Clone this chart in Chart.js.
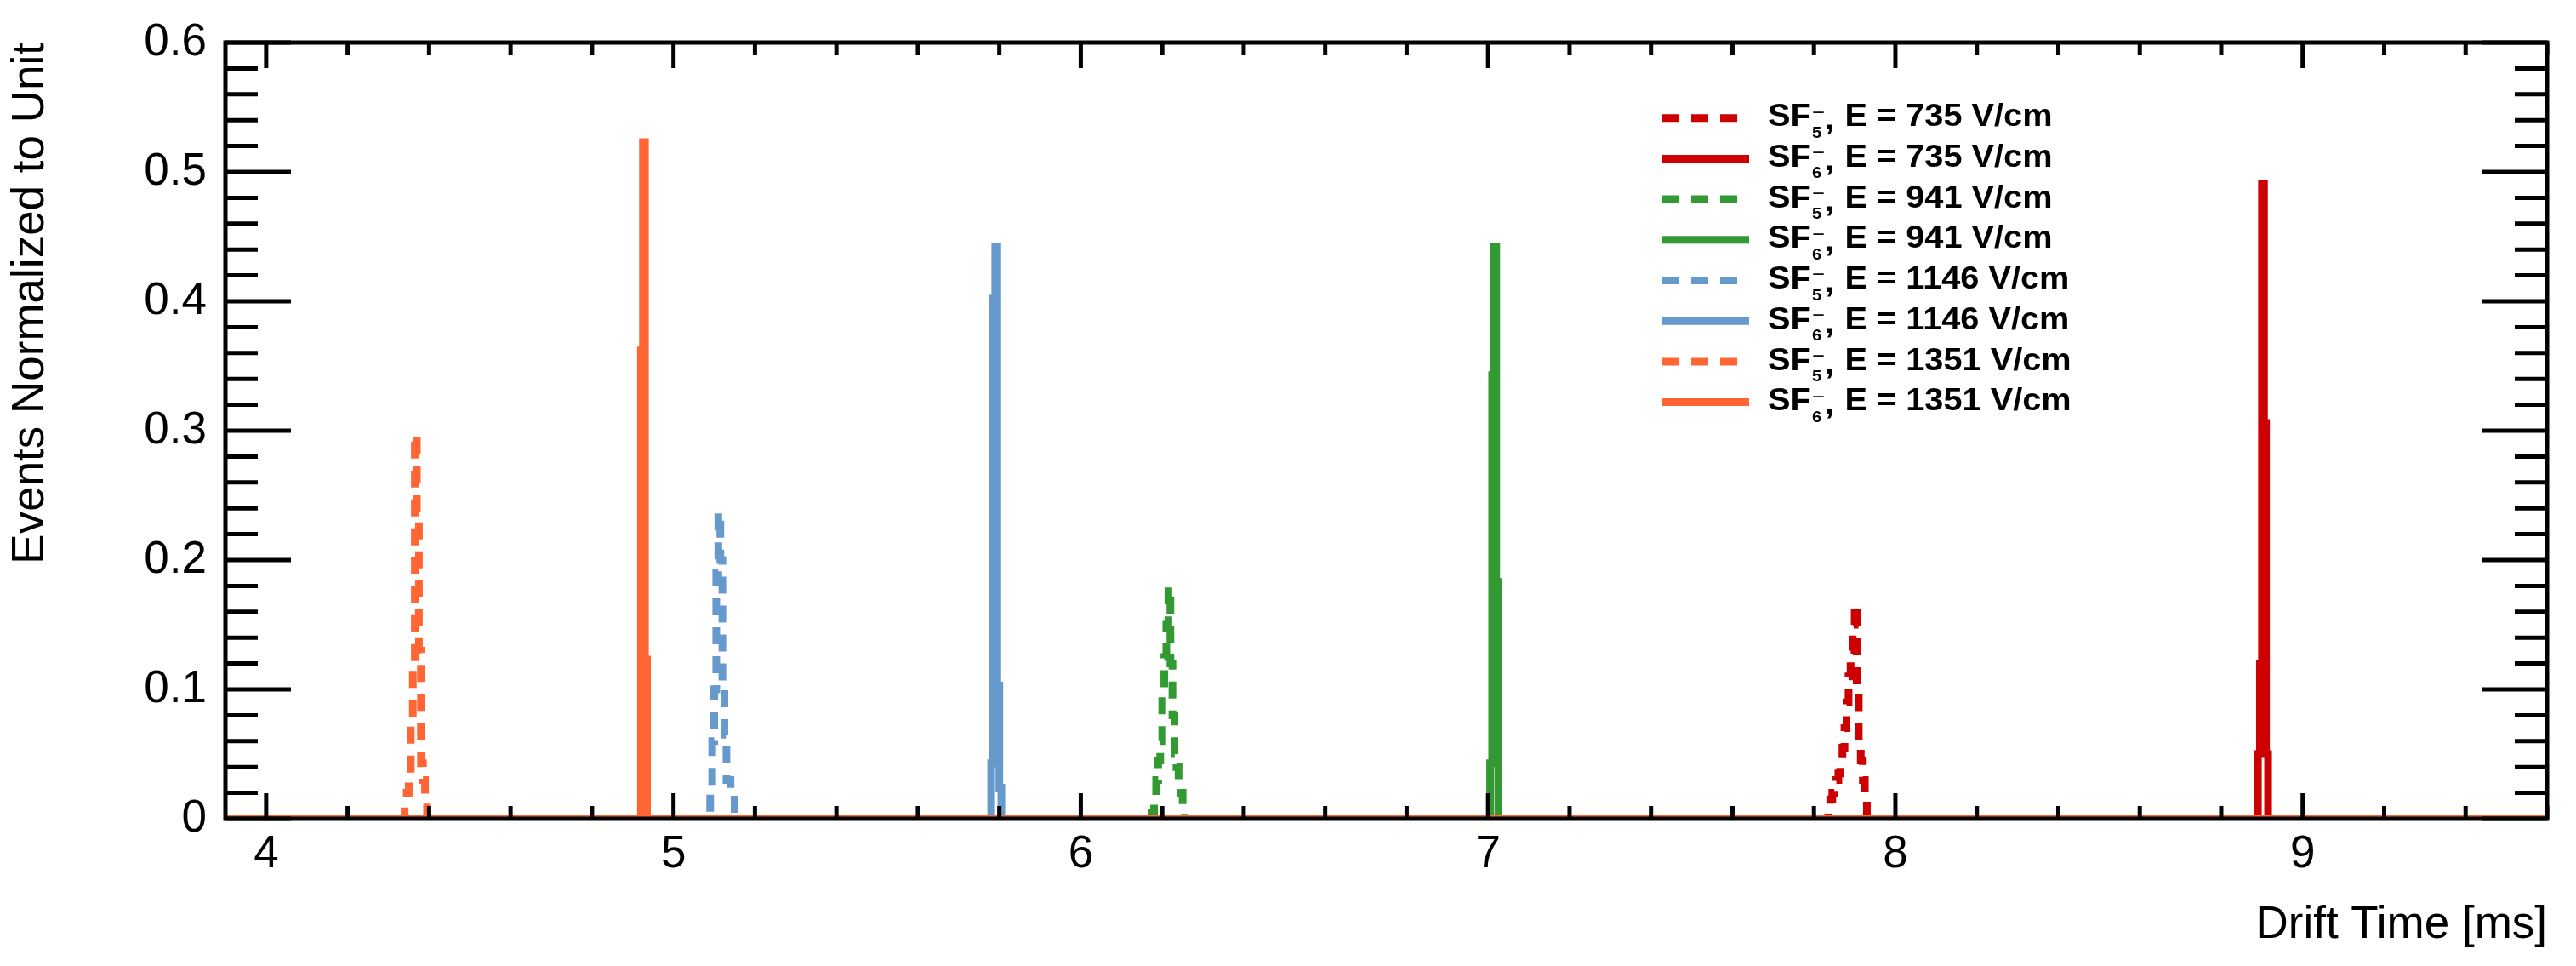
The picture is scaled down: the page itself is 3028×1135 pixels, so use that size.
<!DOCTYPE html>
<html>
<head>
<meta charset="utf-8">
<script src="https://cdn.jsdelivr.net/npm/chart.js@4.4.1/dist/chart.umd.min.js"></script>
<style>
  html, body { margin: 0; padding: 0; background: #ffffff; }
  canvas { display: block; }
</style>
</head>
<body>
<canvas id="chart" width="3028" height="1135"></canvas>
<script>
// ---------------- DATA ----------------
const BIN_WIDTH = 0.005;            // ms per histogram bin
const X_MIN = 3.9, X_MAX = 9.6;     // drift-time axis range [ms]
const Y_MIN = 0, Y_MAX = 0.6;

const seriesLabels = [
  'SF₅⁻, E = 735 V/cm',  'SF₆⁻, E = 735 V/cm',
  'SF₅⁻, E = 941 V/cm',  'SF₆⁻, E = 941 V/cm',
  'SF₅⁻, E = 1146 V/cm', 'SF₆⁻, E = 1146 V/cm',
  'SF₅⁻, E = 1351 V/cm', 'SF₆⁻, E = 1351 V/cm'
];
const ionSubscripts = ['5', '6', '5', '6', '5', '6', '5', '6'];
const fieldValues   = ['735', '735', '941', '941', '1146', '1146', '1351', '1351'];

// first bin low edge [ms] and normalized bin contents of every histogram
const sf5_735_start = 7.835;
const sf5_735 = [0.010, 0.015, 0.020, 0.025, 0.030, 0.035, 0.045, 0.055, 0.070, 0.090,
                 0.110, 0.130, 0.150, 0.166, 0.100, 0.055, 0.045, 0.030, 0.015];
const sf6_735_start = 8.890;
const sf6_735 = [0.050, 0.120, 0.491, 0.306, 0.050];

const sf5_941_start = 6.175;
const sf5_941 = [0.005, 0.015, 0.030, 0.045, 0.060, 0.100, 0.125, 0.150, 0.179, 0.120,
                 0.080, 0.050, 0.040, 0.030, 0.020, 0.005];
const sf6_941_start = 7.005;
const sf6_941 = [0.043, 0.343, 0.442, 0.183];

const sf5_1146_start = 5.090;
const sf5_1146 = [0.025, 0.060, 0.100, 0.190, 0.237, 0.200, 0.105, 0.065, 0.030, 0.030,
                  0.020, 0.020];
const sf6_1146_start = 5.780;
const sf6_1146 = [0.043, 0.402, 0.442, 0.103, 0.024];

const sf5_1351_start = 4.340;
const sf5_1351 = [0.010, 0.020, 0.030, 0.074, 0.117, 0.297, 0.231, 0.130, 0.043, 0.030, 0.015];
const sf6_1351_start = 4.920;
const sf6_1351 = [0.362, 0.523, 0.123];

const xTickValues = [4, 5, 6, 7, 8, 9];
const xTickLabels = ['4', '5', '6', '7', '8', '9'];
const yTickValues = [0, 0.1, 0.2, 0.3, 0.4, 0.5, 0.6];
const yTickLabels = ['0', '0.1', '0.2', '0.3', '0.4', '0.5', '0.6'];

// ---------------- STYLE ----------------
const FAMILY = "'Liberation Sans', Arial, Helvetica, sans-serif";
const seriesColors = ['#cc0000', '#cc0000', '#339933', '#339933',
                      '#6699cc', '#6699cc', '#ff6633', '#ff6633'];
const seriesDashed = [true, false, true, false, true, false, true, false];
const LINE_WIDTH = 9;
const DASH = [20, 14];

const X_MINOR_STEP = 0.2, Y_MINOR_STEP = 0.02;
const FRAME_WIDTH = 5;
const X_TICK_MAJOR = 30, X_TICK_MINOR = 15;
const Y_TICK_MAJOR = 77, Y_TICK_MINOR = 38;

// legend layout (canvas px) and the reference width of "E = 735 V/cm"
const LEG = { x1: 1954, x2: 2056, top: 138.7, step: 47.7, base: 9.6,
              textX: 2078, subX: 2130, commaX: 2145, restX: 2168.5,
              size: 37.5, subSize: 19, refText: 'E = 735 V/cm', refWidth: 244 };

// ---------------- BUILD ----------------
const starts = [sf5_735_start, sf6_735_start, sf5_941_start, sf6_941_start,
                sf5_1146_start, sf6_1146_start, sf5_1351_start, sf6_1351_start];
const contents = [sf5_735, sf6_735, sf5_941, sf6_941, sf5_1146, sf6_1146, sf5_1351, sf6_1351];

function histPoints(start, values) {
  const pts = [{ x: X_MIN, y: 0 }];
  values.forEach((v, i) => pts.push({ x: +(start + i * BIN_WIDTH).toFixed(4), y: v }));
  pts.push({ x: +(start + values.length * BIN_WIDTH).toFixed(4), y: 0 });
  pts.push({ x: X_MAX, y: 0 });
  return pts;
}

const datasets = seriesLabels.map((label, i) => ({
  label,
  data: histPoints(starts[i], contents[i]),
  borderColor: seriesColors[i],
  backgroundColor: seriesColors[i],
  borderWidth: LINE_WIDTH,
  borderDash: seriesDashed[i] ? DASH : [],
  borderCapStyle: 'butt',
  borderJoinStyle: 'miter',
  stepped: true,
  pointRadius: 0,
  fill: false,
  order: seriesLabels.length - i
}));

// ROOT-style frame with inward ticks on all four sides
const framePlugin = {
  id: 'rootFrame',
  afterDatasetsDraw(chart) {
    const { ctx, chartArea: a, scales } = chart;
    const xs = scales.x, ys = scales.y;
    ctx.save();
    ctx.strokeStyle = '#000';
    ctx.lineWidth = FRAME_WIDTH;
    ctx.lineCap = 'butt';
    ctx.setLineDash([]);
    ctx.beginPath();
    const kx0 = Math.ceil(X_MIN / X_MINOR_STEP - 1e-9), kx1 = Math.floor(X_MAX / X_MINOR_STEP + 1e-9);
    for (let k = kx0; k <= kx1; k++) {
      const v = k * X_MINOR_STEP;
      const major = xTickValues.some(t => Math.abs(t - v) < 1e-6);
      const len = major ? X_TICK_MAJOR : X_TICK_MINOR;
      const px = xs.getPixelForValue(v);
      ctx.moveTo(px, a.bottom); ctx.lineTo(px, a.bottom - len);
      ctx.moveTo(px, a.top);    ctx.lineTo(px, a.top + len);
    }
    const ky0 = Math.ceil(Y_MIN / Y_MINOR_STEP - 1e-9), ky1 = Math.floor(Y_MAX / Y_MINOR_STEP + 1e-9);
    for (let k = ky0; k <= ky1; k++) {
      const v = k * Y_MINOR_STEP;
      const major = yTickValues.some(t => Math.abs(t - v) < 1e-6);
      const len = major ? Y_TICK_MAJOR : Y_TICK_MINOR;
      const py = ys.getPixelForValue(v);
      ctx.moveTo(a.left, py);  ctx.lineTo(a.left + len, py);
      ctx.moveTo(a.right, py); ctx.lineTo(a.right - len, py);
    }
    ctx.stroke();
    ctx.strokeRect(a.left, a.top, a.right - a.left, a.bottom - a.top);
    ctx.restore();
  }
};

function stretchedText(ctx, text, x, y, k) {
  ctx.save();
  ctx.translate(x, y);
  ctx.scale(k, 1);
  ctx.fillText(text, 0, 0);
  ctx.restore();
}

// ROOT-style legend (line sample + label with stacked sub/superscript)
const legendPlugin = {
  id: 'rootLegend',
  afterDraw(chart) {
    const ctx = chart.ctx;
    ctx.save();
    ctx.font = `bold ${LEG.size}px ${FAMILY}`;
    const k = LEG.refWidth / ctx.measureText(LEG.refText).width;
    chart.data.datasets.forEach((ds, i) => {
      const yLine = LEG.top + i * LEG.step;
      ctx.beginPath();
      ctx.strokeStyle = ds.borderColor;
      ctx.lineWidth = ds.borderWidth;
      ctx.lineCap = 'butt';
      ctx.setLineDash(ds.borderDash || []);
      ctx.moveTo(LEG.x1, yLine);
      ctx.lineTo(LEG.x2, yLine);
      ctx.stroke();
      ctx.setLineDash([]);

      const base = yLine + LEG.base;
      ctx.fillStyle = '#000';
      ctx.textAlign = 'left';
      ctx.textBaseline = 'alphabetic';
      ctx.font = `bold ${LEG.size}px ${FAMILY}`;
      stretchedText(ctx, 'SF', LEG.textX, base, k);
      ctx.font = `bold ${LEG.subSize}px ${FAMILY}`;
      stretchedText(ctx, ionSubscripts[i], LEG.subX, base + 13.4, k);
      ctx.font = `24px ${FAMILY}`;
      stretchedText(ctx, '−', LEG.subX, base - 8.7, k);
      ctx.font = `bold ${LEG.size}px ${FAMILY}`;
      stretchedText(ctx, ',', LEG.commaX, base + 4, k);
      stretchedText(ctx, `E = ${fieldValues[i]} V/cm`, LEG.restX, base, k);
    });
    ctx.restore();
  }
};

Chart.defaults.font.family = FAMILY;
Chart.defaults.color = '#000';

new Chart(document.getElementById('chart'), {
  type: 'line',
  data: { datasets },
  options: {
    responsive: false,
    devicePixelRatio: 1,
    animation: false,
    events: [],
    layout: { padding: { top: 50, right: 34, left: 0, bottom: 0 } },
    plugins: { legend: { display: false }, tooltip: { enabled: false } },
    scales: {
      x: {
        type: 'linear',
        position: 'bottom',
        min: X_MIN, max: X_MAX,
        grid: { display: false },
        border: { display: false },
        afterBuildTicks: (s) => { s.ticks = xTickValues.map(v => ({ value: v })); },
        afterFit: (s) => { s.height = 173; },
        ticks: {
          autoSkip: false, maxRotation: 0, minRotation: 0,
          padding: 3,
          color: '#000',
          font: { size: 53, family: FAMILY },
          callback: (value, index) => xTickLabels[index]
        },
        title: {
          display: true,
          text: 'Drift Time [ms]',
          align: 'end',
          color: '#000',
          font: { size: 53, family: FAMILY },
          padding: { top: 0, bottom: 15.6 }
        }
      },
      y: {
        type: 'linear',
        position: 'left',
        min: Y_MIN, max: Y_MAX,
        grid: { display: false },
        border: { display: false },
        afterBuildTicks: (s) => { s.ticks = yTickValues.map(v => ({ value: v })); },
        afterFit: (s) => { s.width = 265; },
        ticks: {
          autoSkip: false,
          padding: 14,
          color: '#000',
          font: { size: 53, family: FAMILY },
          callback: (value, index) => yTickLabels[index]
        },
        title: {
          display: true,
          text: 'Events Normalized to Unit',
          align: 'end',
          color: '#000',
          font: { size: 53, family: FAMILY },
          padding: { top: 5, bottom: 0 }
        }
      }
    }
  },
  plugins: [framePlugin, legendPlugin]
});
</script>
</body>
</html>
